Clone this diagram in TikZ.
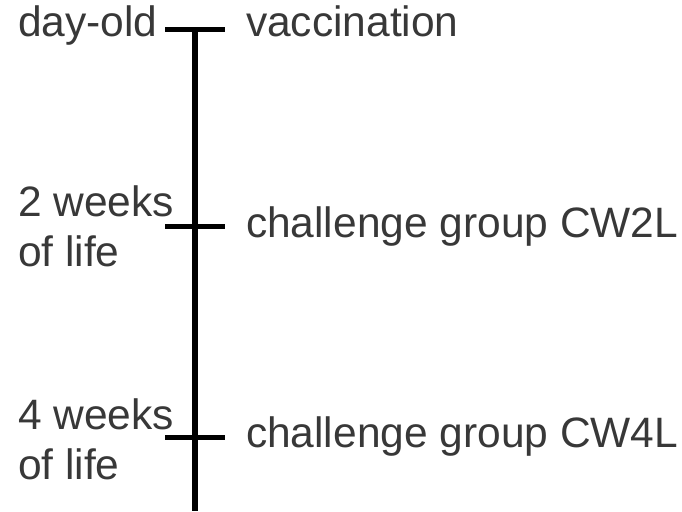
\documentclass[tikz,border=0pt]{standalone}
\usepackage{fontspec}
\setmainfont{Liberation Sans}
\tikzstyle{axis}=[line width=5.5pt]
\tikzstyle{tick}=[line width=5pt]
\tikzstyle{every node}=[font=\fontsize{42.5}{50}\selectfont,text=black!78,inner sep=0pt,outer sep=0pt]
\tikzstyle{event}=[anchor=base west]
\tikzstyle{age}=[anchor=base west,align=left]
\begin{document}
\begin{tikzpicture}[x=1pt,y=-1pt]
    \useasboundingbox (0,0) rectangle (682,511);
    \coordinate (top) at (195,30);
    \coordinate (bottom) at (195,511);
    \draw[axis] (top) -- (bottom);
    % ticks on the time line
    \coordinate (t0l) at (165,30);  \coordinate (t0r) at (225,30);
    \coordinate (t2l) at (165,226); \coordinate (t2r) at (225,226);
    \coordinate (t4l) at (165,437); \coordinate (t4r) at (225,437);
    \draw[tick] (t0l) -- (t0r);
    \draw[tick] (t2l) -- (t2r);
    \draw[tick] (t4l) -- (t4r);
    % ages (base = last line)
    \node[age] (dayold) at (18,37) {day-old};
    \node[age] (week2) at (18,266) {2 weeks\\of life};
    \node[age] (week4) at (18,479) {4 weeks\\of life};
    % events
    \node[event] (vacc) at (246,37) {vaccination};
    \node[event] (cw2l) at (246,237) {challenge group CW2L};
    \node[event] (cw4l) at (246,447) {challenge group CW4L};
\end{tikzpicture}
\end{document}
